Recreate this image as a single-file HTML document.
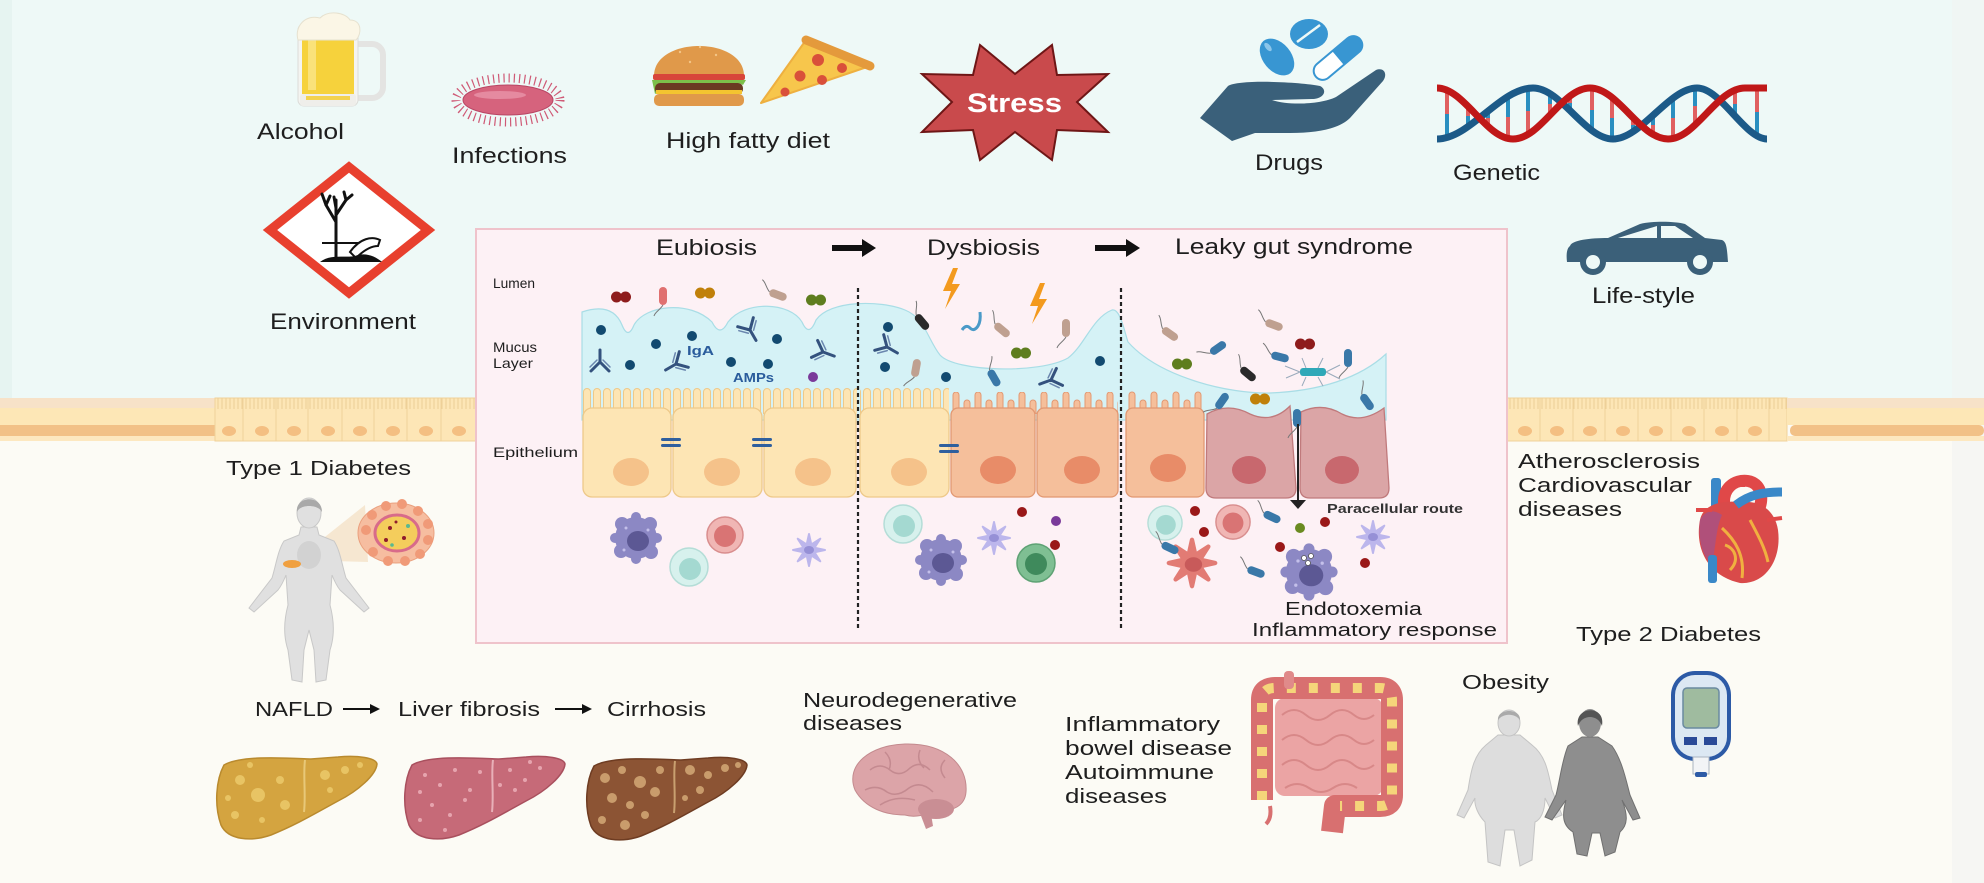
<!DOCTYPE html>
<html><head><meta charset="utf-8">
<style>
html,body{margin:0;padding:0;width:1984px;height:883px;overflow:hidden;background:#fcfbf5}
svg{display:block}
text{font-family:"Liberation Sans",Arial,sans-serif;fill:#1e1e1e}
</style></head><body>
<svg width="1984" height="883" viewBox="0 0 1984 883" xmlns="http://www.w3.org/2000/svg">
<defs>
 <pattern id="bv" x="0" y="398" width="4" height="12" patternUnits="userSpaceOnUse"><line x1="2" y1="0" x2="2" y2="11" stroke="#eccf96" stroke-width="1"/></pattern>
 <pattern id="vY" x="582" y="388" width="10" height="40" patternUnits="userSpaceOnUse"><rect x="1.5" y="0.5" width="7" height="40" rx="3.5" fill="#fde5b4" stroke="#eec98a"/></pattern>
 <pattern id="vO" x="951" y="390" width="22" height="40" patternUnits="userSpaceOnUse"><rect x="2" y="2" width="6" height="40" rx="3" fill="#f5bf9b" stroke="#e29872"/><rect x="13" y="10" width="6" height="40" rx="3" fill="#f5bf9b" stroke="#e29872"/></pattern>
 <g id="mac"><circle r="21" fill="#8c88c4"/><circle cx="-14" cy="-14" r="7" fill="#8c88c4"/><circle cx="14" cy="-14" r="7" fill="#8c88c4"/><circle cx="-15" cy="13" r="7" fill="#8c88c4"/><circle cx="15" cy="14" r="7" fill="#8c88c4"/><circle cx="0" cy="-21" r="5" fill="#8c88c4"/><circle cx="0" cy="21" r="5" fill="#8c88c4"/><circle cx="-21" cy="0" r="5" fill="#8c88c4"/><circle cx="21" cy="0" r="5" fill="#8c88c4"/><ellipse cx="2" cy="3" rx="11" ry="10" fill="#5c5894"/><circle cx="-10" cy="-10" r="1.5" fill="#c4c0ea"/><circle cx="12" cy="-8" r="1.5" fill="#c4c0ea"/><circle cx="-12" cy="12" r="1.5" fill="#c4c0ea"/></g>
 <g id="teal"><circle r="19" fill="#d7f1ed" stroke="#b4ddd7" stroke-width="1.5"/><circle cx="1" cy="2" r="11" fill="#a4d9d1"/></g>
 <g id="pink"><circle r="18" fill="#f0b6b4" stroke="#d98e8e" stroke-width="1.5"/><circle cx="0" cy="1" r="11" fill="#d97474"/></g>
 <g id="green"><circle r="19" fill="#7fbf93" stroke="#5ea274" stroke-width="1.5"/><circle cx="0" cy="1" r="11" fill="#3f8a5c"/></g>
 <g id="dend"><polygon points="16,0 5.5,2.3 11.3,11.3 2.3,5.5 0,16 -2.3,5.5 -11.3,11.3 -5.5,2.3 -16,0 -5.5,-2.3 -11.3,-11.3 -2.3,-5.5 0,-16 2.3,-5.5 11.3,-11.3 5.5,-2.3" fill="#bcb6ec" stroke="#bcb6ec" stroke-width="2" stroke-linejoin="round"/><ellipse rx="8" ry="6" fill="#bcb6ec"/><ellipse rx="5" ry="4" fill="#9690d6"/></g>
 <g id="rod"><path d="M-9,0 C-14,-3 -16,-8 -20,-9" fill="none" stroke="#777" stroke-width="1"/><rect x="-9" y="-4" width="18" height="8" rx="4"/></g>
 <g id="dip"><circle cx="-4.5" cy="0" r="5.5"/><circle cx="4.5" cy="0" r="5.5"/></g>
 <g id="ab" fill="none" stroke="#34527e" stroke-width="3" stroke-linecap="round"><path d="M0,12 V0 M0,0 L-9,-9 M0,0 L9,-9"/><path d="M-3,2 L-10,-5 M3,2 L10,-5" stroke-width="1.5" stroke="#6a86ae"/></g>
 <path id="liver" d="M8,10 C25,0 70,3 95,4 L122,2 C142,0 160,3 161,9 C160,20 142,36 122,46 C100,58 80,70 55,80 C35,87 12,85 5,70 C-2,50 0,25 8,10 Z"/>
</defs>

<!-- backgrounds -->
<rect width="1984" height="883" fill="#fcfbf5"/>
<rect width="1984" height="400" fill="#eef9f7"/>
<rect x="0" y="0" width="12" height="400" fill="#e6f4f1"/>
<rect x="1952" y="0" width="32" height="883" fill="#f1f3f1" opacity="0.6"/>

<!-- epithelial band left -->
<rect x="0" y="398" width="216" height="10" fill="#f7e2c8"/>
<rect x="0" y="408" width="216" height="17" fill="#fde7b6"/>
<rect x="0" y="425" width="216" height="11" fill="#f2c187"/>
<rect x="0" y="436" width="216" height="5" fill="#fde8c0"/>
<g fill="#fde6b6" stroke="#f0d19a" stroke-width="1">
<rect x="215" y="398" width="28" height="43"/><rect x="243" y="398" width="33" height="43"/><rect x="276" y="398" width="32" height="43"/><rect x="308" y="398" width="34" height="43"/><rect x="342" y="398" width="32" height="43"/><rect x="374" y="398" width="33" height="43"/><rect x="407" y="398" width="34" height="43"/><rect x="441" y="398" width="35" height="43"/>
</g>
<rect x="215" y="398" width="261" height="11" fill="url(#bv)"/>
<g fill="#f4bf82"><ellipse cx="229" cy="431" rx="7" ry="5"/><ellipse cx="262" cy="431" rx="7" ry="5"/><ellipse cx="294" cy="431" rx="7" ry="5"/><ellipse cx="328" cy="431" rx="7" ry="5"/><ellipse cx="360" cy="431" rx="7" ry="5"/><ellipse cx="393" cy="431" rx="7" ry="5"/><ellipse cx="426" cy="431" rx="7" ry="5"/><ellipse cx="459" cy="431" rx="7" ry="5"/></g>

<!-- epithelial band right -->
<g fill="#fde6b6" stroke="#f0d19a" stroke-width="1">
<rect x="1507" y="398" width="33" height="43"/><rect x="1540" y="398" width="33" height="43"/><rect x="1573" y="398" width="32" height="43"/><rect x="1605" y="398" width="33" height="43"/><rect x="1638" y="398" width="33" height="43"/><rect x="1671" y="398" width="33" height="43"/><rect x="1704" y="398" width="33" height="43"/><rect x="1737" y="398" width="32" height="43"/><rect x="1769" y="398" width="18" height="43"/>
</g>
<rect x="1507" y="398" width="280" height="11" fill="url(#bv)"/>
<g fill="#f4bf82"><ellipse cx="1525" cy="431" rx="7" ry="5"/><ellipse cx="1557" cy="431" rx="7" ry="5"/><ellipse cx="1590" cy="431" rx="7" ry="5"/><ellipse cx="1623" cy="431" rx="7" ry="5"/><ellipse cx="1656" cy="431" rx="7" ry="5"/><ellipse cx="1689" cy="431" rx="7" ry="5"/><ellipse cx="1722" cy="431" rx="7" ry="5"/><ellipse cx="1755" cy="431" rx="7" ry="5"/></g>
<rect x="1787" y="398" width="197" height="10" fill="#f7e2c8"/>
<rect x="1787" y="408" width="197" height="17" fill="#fde7b6"/>
<rect x="1790" y="425" width="194" height="11" rx="5" fill="#f2c187"/>
<rect x="1787" y="436" width="197" height="5" fill="#fde8c0"/>

<!-- ================= TOP ICONS ================= -->
<!-- beer -->
<path d="M356,44 h16 a11,11 0 0 1 11,11 v32 a11,11 0 0 1 -11,11 h-16" fill="none" stroke="#e4e4e2" stroke-width="6"/>
<rect x="298" y="24" width="60" height="82" rx="6" fill="#f4f4f1" stroke="#dcdcd8"/>
<rect x="302" y="36" width="52" height="58" fill="#f6d23c"/>
<rect x="308" y="40" width="8" height="50" fill="#fae27a"/>
<path d="M298,40 C294,26 306,14 320,18 C328,10 345,12 350,20 C362,20 362,34 356,40 Z" fill="#fbf6e6" stroke="#e6e1cf"/>
<rect x="300" y="94" width="56" height="12" rx="3" fill="#efeeea"/>
<rect x="306" y="96" width="44" height="4" fill="#f3d24e"/>
<!-- bacterium -->
<ellipse cx="508" cy="100" rx="52" ry="22" fill="none" stroke="#cf5a76" stroke-width="9" stroke-dasharray="1.2 4"/>
<ellipse cx="508" cy="100" rx="45" ry="15" fill="#d6637d" stroke="#b84664"/>
<ellipse cx="500" cy="95" rx="26" ry="4" fill="#e58aa0"/>
<!-- burger -->
<path d="M654,76 C654,36 744,36 744,76 Z" fill="#e0994a"/>
<rect x="653" y="74" width="92" height="6" rx="2" fill="#d8453a"/>
<path d="M652,80 h94 l-3,5 l-4,-2 l-4,3 l-5,-2 l-5,3 l-5,-2 l-5,3 l-5,-2 l-5,3 l-5,-2 l-5,3 l-5,-2 l-5,3 l-5,-2 l-5,3 l-5,-2 l-5,3 l-5,-2 l-5,3 Z" fill="#7cc04a"/>
<rect x="655" y="83" width="88" height="11" rx="5" fill="#6a3a22"/>
<path d="M656,90 h86 v4 h-30 l-6,6 l-6,-6 h-44 Z" fill="#f4c430"/>
<rect x="654" y="94" width="90" height="12" rx="5" fill="#e0994a"/>
<g fill="#f3c586"><circle cx="680" cy="52" r="1.2"/><circle cx="700" cy="47" r="1.2"/><circle cx="716" cy="55" r="1.2"/><circle cx="690" cy="62" r="1.2"/></g>
<!-- pizza -->
<path d="M806,40 L870,66 L761,103 Z" fill="#f7c64c" stroke="#eeb040" stroke-width="2" stroke-linejoin="round"/>
<path d="M806,40 L870,66" stroke="#e49a3c" stroke-width="9" stroke-linecap="round"/>
<g fill="#d9503a"><circle cx="818" cy="60" r="6"/><circle cx="842" cy="68" r="5"/><circle cx="800" cy="76" r="5.5"/><circle cx="822" cy="80" r="5"/><circle cx="785" cy="92" r="4.5"/></g>
<!-- stress -->
<polygon points="980,45 1015,74 1052,45 1057,75 1108,74 1077,102 1108,132 1057,130 1052,160 1015,132 980,160 973,130 922,132 952,102 922,74 973,75" fill="#c94a4c" stroke="#6e1616" stroke-width="2" stroke-linejoin="miter"/>
<text x="967" y="112" font-size="27" font-weight="bold" textLength="95" lengthAdjust="spacingAndGlyphs" style="fill:#fff">Stress</text>
<!-- drugs -->
<path d="M1200,118 L1228,86 C1240,79 1300,82 1320,86 C1328,90 1324,99 1312,99 L1272,100 C1290,106 1322,104 1336,97 L1376,70 C1384,67 1388,74 1383,81 L1350,118 C1340,128 1320,133 1290,133 L1255,133 L1232,141 Z" fill="#3a607a"/>
<ellipse cx="1277" cy="57" rx="21" ry="14" transform="rotate(50 1277 57)" fill="#3896d2"/>
<ellipse cx="1268" cy="47" rx="5" ry="2.5" transform="rotate(50 1268 47)" fill="#8cc6ea"/>
<ellipse cx="1309" cy="34" rx="19" ry="15" fill="#3896d2"/>
<line x1="1297" y1="42" x2="1320" y2="25" stroke="#eef9f7" stroke-width="2.5"/>
<g transform="rotate(-40 1338 58)"><rect x="1308" y="48" width="60" height="20" rx="10" fill="#3896d2"/><path d="M1338,50 h-20 a8,8 0 0 0 0,16 h20 Z" fill="#fff"/></g>
<!-- DNA -->
<g stroke-width="4">
<line x1="1447" y1="90" x2="1447" y2="114" stroke="#e06060"/><line x1="1447" y1="114" x2="1447" y2="138" stroke="#2a8fc0"/>
<line x1="1468" y1="106" x2="1468" y2="116" stroke="#e06060"/><line x1="1468" y1="116" x2="1468" y2="127" stroke="#2a8fc0"/>
<line x1="1488" y1="111" x2="1488" y2="118" stroke="#2a8fc0"/><line x1="1488" y1="118" x2="1488" y2="126" stroke="#e06060"/>
<line x1="1508" y1="96" x2="1508" y2="117" stroke="#2a8fc0"/><line x1="1508" y1="117" x2="1508" y2="138" stroke="#e06060"/>
<line x1="1528" y1="88" x2="1528" y2="111" stroke="#2a8fc0"/><line x1="1528" y1="111" x2="1528" y2="134" stroke="#e06060"/>
<line x1="1550" y1="93" x2="1550" y2="104" stroke="#2a8fc0"/><line x1="1550" y1="104" x2="1550" y2="115" stroke="#e06060"/>
<line x1="1570" y1="96" x2="1570" y2="103" stroke="#e06060"/><line x1="1570" y1="103" x2="1570" y2="110" stroke="#2a8fc0"/>
<line x1="1592" y1="88" x2="1592" y2="110" stroke="#e06060"/><line x1="1592" y1="110" x2="1592" y2="131" stroke="#2a8fc0"/>
<line x1="1612" y1="97" x2="1612" y2="118" stroke="#e06060"/><line x1="1612" y1="118" x2="1612" y2="139" stroke="#2a8fc0"/>
<line x1="1633" y1="117" x2="1633" y2="125" stroke="#e06060"/><line x1="1633" y1="125" x2="1633" y2="132" stroke="#2a8fc0"/>
<line x1="1653" y1="115" x2="1653" y2="125" stroke="#2a8fc0"/><line x1="1653" y1="125" x2="1653" y2="134" stroke="#e06060"/>
<line x1="1673" y1="98" x2="1673" y2="118" stroke="#2a8fc0"/><line x1="1673" y1="118" x2="1673" y2="138" stroke="#e06060"/>
<line x1="1695" y1="88" x2="1695" y2="106" stroke="#2a8fc0"/><line x1="1695" y1="106" x2="1695" y2="125" stroke="#e06060"/>
<line x1="1735" y1="90" x2="1735" y2="104" stroke="#e06060"/><line x1="1735" y1="104" x2="1735" y2="117" stroke="#2a8fc0"/>
<line x1="1757" y1="88" x2="1757" y2="112" stroke="#e06060"/><line x1="1757" y1="112" x2="1757" y2="136" stroke="#2a8fc0"/>
</g>
<path d="M1437,139 C1470,139 1500,88 1533,88 C1561,88 1585,139 1613,139 C1641,139 1669,88 1697,88 C1721,88 1745,139 1767,139" fill="none" stroke="#1c5a88" stroke-width="7"/>
<path d="M1437,88 C1464,88 1486,139 1513,139 C1541,139 1562,88 1590,88 C1618,88 1640,139 1668,139 C1696,139 1717,88 1745,88 L1767,88" fill="none" stroke="#c01818" stroke-width="7"/>
<!-- environment -->
<polygon points="349,167 428,230 349,293 270,230" fill="#fff" stroke="#e8402e" stroke-width="9" stroke-linejoin="miter"/>
<g stroke="#111" stroke-width="3" fill="none" stroke-linecap="round">
<path d="M336,258 L336,200 M336,222 L326,205 M326,205 L322,194 M326,205 L330,196 M336,215 L346,200 M346,200 L344,192 M346,200 L352,195 M336,208 L334,197"/>
</g>
<line x1="322" y1="243" x2="378" y2="243" stroke="#111" stroke-width="2"/>
<path d="M350,252 C360,238 372,236 380,240 L378,246 C370,246 362,252 356,258 Z" fill="#fff" stroke="#111" stroke-width="2"/>
<path d="M320,262 C330,254 345,258 355,256 C365,252 375,256 382,262 Z" fill="#111"/>
<!-- car -->
<path d="M1570,246 C1572,240 1590,238 1608,238 L1640,224 C1650,221 1675,221 1685,224 L1705,238 L1722,240 C1727,242 1727,250 1728,262 L1567,262 C1566,254 1567,248 1570,246 Z" fill="#3b6079"/>
<polygon points="1618,238 1657,226 1657,238" fill="#eef9f7"/>
<polygon points="1661,226 1675,226 1693,238 1661,238" fill="#eef9f7"/>
<circle cx="1593" cy="262" r="13" fill="#3b6079"/><circle cx="1593" cy="262" r="7" fill="#eef9f7"/>
<circle cx="1700" cy="262" r="13" fill="#3b6079"/><circle cx="1700" cy="262" r="7" fill="#eef9f7"/>

<!-- top labels -->
<g font-size="22">
<text x="257" y="139" textLength="87" lengthAdjust="spacingAndGlyphs">Alcohol</text>
<text x="452" y="163" textLength="115" lengthAdjust="spacingAndGlyphs">Infections</text>
<text x="666" y="148" textLength="164" lengthAdjust="spacingAndGlyphs">High fatty diet</text>
<text x="1255" y="170" textLength="68" lengthAdjust="spacingAndGlyphs">Drugs</text>
<text x="1453" y="180" textLength="87" lengthAdjust="spacingAndGlyphs">Genetic</text>
<text x="270" y="329" textLength="146" lengthAdjust="spacingAndGlyphs">Environment</text>
<text x="1592" y="303" textLength="103" lengthAdjust="spacingAndGlyphs">Life-style</text>
</g>

<!-- ================= CENTRAL BOX ================= -->
<rect x="476" y="229" width="1031" height="414" fill="#fdf1f5" stroke="#efc3cb" stroke-width="2"/>
<g font-size="22">
<text x="656" y="255" textLength="101" lengthAdjust="spacingAndGlyphs">Eubiosis</text>
<text x="927" y="255" textLength="113" lengthAdjust="spacingAndGlyphs">Dysbiosis</text>
<text x="1175" y="254" textLength="238" lengthAdjust="spacingAndGlyphs">Leaky gut syndrome</text>
</g>
<path d="M832,245 h30 v-6 l14,9 l-14,9 v-6 h-30 Z" fill="#111"/>
<path d="M1095,245 h31 v-6 l14,9 l-14,9 v-6 h-31 Z" fill="#111"/>
<g font-size="14">
<text x="493" y="288" textLength="42" lengthAdjust="spacingAndGlyphs">Lumen</text>
<text x="493" y="352" textLength="44" lengthAdjust="spacingAndGlyphs">Mucus</text>
<text x="493" y="368" textLength="40" lengthAdjust="spacingAndGlyphs">Layer</text>
<text x="493" y="457" textLength="85" lengthAdjust="spacingAndGlyphs">Epithelium</text>
</g>

<!-- mucus -->
<path d="M582,312 C600,306 615,308 622,325 Q628,340 634,325 C645,305 690,300 712,322 Q720,338 728,322 C745,300 790,302 802,322 Q809,338 816,320 C830,300 880,300 905,310 C925,318 928,340 940,355 C955,372 1040,374 1068,358 C1085,345 1092,318 1112,310 C1120,308 1124,330 1128,342 C1160,378 1230,394 1270,393 C1320,391 1360,378 1386,354 L1386,420 L582,420 Z" fill="#d5f2f6" stroke="#a9dde6" stroke-width="1.2"/>

<!-- cells eubiosis -->
<rect x="582" y="388" width="275" height="26" fill="url(#vY)"/>
<g fill="#fde5b4" stroke="#eec98a" stroke-width="1.3">
<rect x="583" y="408" width="88" height="89" rx="9"/>
<rect x="673" y="408" width="89" height="89" rx="9"/>
<rect x="764" y="408" width="92" height="89" rx="9"/>
</g>
<!-- dysbiosis cells -->
<rect x="860" y="388" width="89" height="26" fill="url(#vY)"/>
<rect x="860" y="408" width="89" height="89" rx="9" fill="#fde5b4" stroke="#eec98a" stroke-width="1.3"/>
<rect x="951" y="392" width="167" height="22" fill="url(#vO)"/>
<g fill="#f5bf9b" stroke="#e29872" stroke-width="1.3">
<rect x="951" y="408" width="84" height="89" rx="7"/>
<rect x="1037" y="408" width="81" height="89" rx="7"/>
</g>
<!-- leaky cells -->
<rect x="1126" y="390" width="78" height="24" fill="url(#vO)"/>
<rect x="1126" y="408" width="78" height="89" rx="7" fill="#f5bf9b" stroke="#e29872" stroke-width="1.3"/>
<path d="M1207,414 Q1228,402 1250,414 Q1272,424 1290,406 L1296,488 Q1296,498 1286,498 L1216,498 Q1206,498 1206,488 Z" fill="#dba5a6" stroke="#c07a7c" stroke-width="1.3"/>
<path d="M1301,412 Q1322,402 1342,414 Q1362,424 1384,408 L1389,488 Q1389,498 1379,498 L1310,498 Q1300,498 1300,488 Z" fill="#dba5a6" stroke="#c07a7c" stroke-width="1.3"/>
<!-- nuclei -->
<g fill="#f5c28a"><ellipse cx="631" cy="472" rx="18" ry="14"/><ellipse cx="722" cy="472" rx="18" ry="14"/><ellipse cx="813" cy="472" rx="18" ry="14"/><ellipse cx="909" cy="472" rx="18" ry="14"/></g>
<g fill="#e88c68"><ellipse cx="998" cy="470" rx="18" ry="14"/><ellipse cx="1082" cy="470" rx="18" ry="14"/><ellipse cx="1168" cy="468" rx="18" ry="14"/></g>
<g fill="#c8686e"><ellipse cx="1249" cy="470" rx="17" ry="14"/><ellipse cx="1342" cy="470" rx="17" ry="14"/></g>
<!-- tight junctions -->
<g fill="#2f5f9e"><rect x="661" y="438" width="20" height="3" rx="1.5"/><rect x="661" y="444" width="20" height="3" rx="1.5"/><rect x="752" y="438" width="20" height="3" rx="1.5"/><rect x="752" y="444" width="20" height="3" rx="1.5"/><rect x="939" y="444" width="20" height="3" rx="1.5"/><rect x="939" y="450" width="20" height="3" rx="1.5"/></g>

<!-- eubiosis mucus contents -->
<g fill="#124a70"><circle cx="601" cy="330" r="5"/><circle cx="630" cy="365" r="5"/><circle cx="656" cy="344" r="5"/><circle cx="692" cy="336" r="5"/><circle cx="731" cy="362" r="5"/><circle cx="768" cy="364" r="5"/><circle cx="777" cy="339" r="5"/><circle cx="888" cy="327" r="5"/><circle cx="885" cy="367" r="5"/><circle cx="946" cy="377" r="5"/><circle cx="1100" cy="361" r="5"/></g>
<circle cx="813" cy="377" r="5" fill="#7a3a9a"/>
<use href="#ab" transform="translate(600,362) rotate(180)"/>
<use href="#ab" transform="translate(676,364) rotate(60)"/>
<use href="#ab" transform="translate(750,330) rotate(-30)"/>
<use href="#ab" transform="translate(823,352) rotate(-70)"/>
<use href="#ab" transform="translate(887,347) rotate(-60)"/>
<use href="#ab" transform="translate(1051,380) rotate(70)"/>
<text x="687" y="355" font-size="13" font-weight="bold" textLength="27" lengthAdjust="spacingAndGlyphs" style="fill:#2a5c9c">IgA</text>
<text x="733" y="382" font-size="13" font-weight="bold" textLength="41" lengthAdjust="spacingAndGlyphs" style="fill:#2a5c9c">AMPs</text>

<!-- lumen bacteria eubiosis -->
<use href="#dip" x="621" y="297" fill="#8e1c1c"/>
<use href="#rod" transform="translate(663,296) rotate(-90)" fill="#e07070"/>
<use href="#dip" x="705" y="293" fill="#c0800a"/>
<use href="#rod" transform="translate(778,295) rotate(20)" fill="#bfa090"/>
<use href="#dip" x="816" y="300" fill="#5e7d1e"/>
<!-- dysbiosis bacteria & bolts -->
<polygon points="953,268 943,291 951,291 945,309 960,284 952,284 958,268" fill="#f39a1e"/>
<polygon points="1040,283 1030,306 1038,306 1032,324 1047,299 1039,299 1045,283" fill="#f39a1e"/>
<use href="#rod" transform="translate(922,322) rotate(50)" fill="#2a2a2a"/>
<path d="M962,330 q4,-6 8,-2 q4,4 8,-2 q3,-5 2,-14" fill="none" stroke="#4a9ac8" stroke-width="3"/>
<use href="#rod" transform="translate(1002,330) rotate(40)" fill="#bfa090"/>
<use href="#rod" transform="translate(1066,328) rotate(-90)" fill="#bfa090"/>
<use href="#dip" x="1021" y="353" fill="#5e7d1e"/>
<use href="#rod" transform="translate(916,368) rotate(-80)" fill="#bfa090"/>
<use href="#rod" transform="translate(994,378) rotate(60)" fill="#3a78a8"/>
<!-- leaky bacteria -->
<use href="#rod" transform="translate(1170,334) rotate(35)" fill="#bfa090"/>
<use href="#rod" transform="translate(1218,348) rotate(-35)" fill="#3a78a8"/>
<use href="#rod" transform="translate(1274,325) rotate(20)" fill="#bfa090"/>
<use href="#dip" x="1305" y="344" fill="#8e1c1c"/>
<use href="#dip" x="1182" y="364" fill="#5e7d1e"/>
<use href="#rod" transform="translate(1248,374) rotate(40)" fill="#2a2a2a"/>
<use href="#rod" transform="translate(1280,357) rotate(15)" fill="#3a78a8"/>
<use href="#rod" transform="translate(1348,358) rotate(-90)" fill="#3a78a8"/>
<g stroke="#9ab" stroke-width="1" fill="none"><path d="M1300,372 l-15,-6 M1300,372 l-14,6 M1326,372 l14,-7 M1326,372 l14,7 M1306,368 l-4,-10 M1318,368 l5,-10 M1306,377 l-4,9 M1318,377 l5,9"/></g>
<rect x="1300" y="368" width="26" height="8" rx="3" fill="#2fa8b8"/>
<use href="#rod" transform="translate(1222,401) rotate(-55)" fill="#3a78a8"/>
<use href="#dip" x="1260" y="399" fill="#c0800a"/>
<use href="#rod" transform="translate(1367,402) rotate(55)" fill="#3a78a8"/>
<use href="#rod" transform="translate(1297,418) rotate(-90)" fill="#3a78a8"/>
<!-- paracellular arrow -->
<line x1="1298" y1="424" x2="1298" y2="502" stroke="#222" stroke-width="2"/>
<polygon points="1290,500 1306,500 1298,509" fill="#222"/>
<text x="1327" y="513" font-size="13" font-weight="bold" textLength="136" lengthAdjust="spacingAndGlyphs" style="fill:#333">Paracellular route</text>

<!-- immune cells -->
<use href="#mac" x="636" y="538"/>
<use href="#pink" x="725" y="535"/>
<use href="#teal" x="689" y="567"/>
<use href="#dend" x="809" y="550"/>
<use href="#teal" x="903" y="524"/>
<use href="#mac" x="941" y="560"/>
<use href="#dend" x="994" y="538"/>
<use href="#green" x="1036" y="563"/>
<g fill="#9a1818"><circle cx="1022" cy="512" r="5"/><circle cx="1055" cy="545" r="5"/><circle cx="1195" cy="511" r="5"/><circle cx="1204" cy="532" r="5"/><circle cx="1280" cy="547" r="5"/><circle cx="1325" cy="522" r="5"/><circle cx="1365" cy="563" r="5"/></g>
<circle cx="1056" cy="521" r="5" fill="#7a3a9a"/>
<circle cx="1300" cy="528" r="5" fill="#6a8a20"/>
<use href="#teal" transform="translate(1165,523) scale(0.9)"/>
<use href="#pink" transform="translate(1233,522) scale(0.95)"/>
<g transform="translate(1192,563) scale(1.45)"><polygon points="16,0 5.5,2.3 11.3,11.3 2.3,5.5 0,16 -2.3,5.5 -11.3,11.3 -5.5,2.3 -16,0 -5.5,-2.3 -11.3,-11.3 -2.3,-5.5 0,-16 2.3,-5.5 11.3,-11.3 5.5,-2.3" fill="#e27b74" stroke="#e27b74" stroke-width="3" stroke-linejoin="round"/><ellipse rx="9" ry="7" fill="#e27b74"/><ellipse cx="1" cy="1" rx="6" ry="5" fill="#c85a5a"/></g>
<use href="#mac" transform="translate(1309,572) scale(1.1)"/>
<g fill="#fff" stroke="#555" stroke-width="0.8"><circle cx="1304" cy="558" r="2.5"/><circle cx="1311" cy="556" r="2.5"/><circle cx="1308" cy="563" r="2.5"/></g>
<use href="#dend" x="1373" y="537"/>
<use href="#rod" transform="translate(1272,517) rotate(25)" fill="#3a78a8"/>
<use href="#rod" transform="translate(1170,548) rotate(25)" fill="#3a78a8"/>
<use href="#rod" transform="translate(1256,572) rotate(20)" fill="#3a78a8"/>

<!-- dashed lines -->
<line x1="858" y1="288" x2="858" y2="628" stroke="#222" stroke-width="2.2" stroke-dasharray="4 3"/>
<line x1="1121" y1="288" x2="1121" y2="628" stroke="#222" stroke-width="2.2" stroke-dasharray="4 3"/>

<text x="1285" y="615" font-size="18" textLength="137" lengthAdjust="spacingAndGlyphs">Endotoxemia</text>
<text x="1252" y="636" font-size="18" textLength="245" lengthAdjust="spacingAndGlyphs">Inflammatory response</text>

<!-- ================= BOTTOM ================= -->
<!-- T1D woman -->
<polygon points="296,560 365,505 368,562" fill="#f4e2c8" opacity="0.8"/>
<path d="M301,527 L317,527 L319,535 L334,541 C340,550 342,565 346,578 L369,608 L364,612 L340,590 C336,585 334,580 332,575 L330,605 C334,620 335,635 330,650 L326,680 L316,682 L314,650 L309,630 L304,650 L302,682 L292,680 L288,650 C283,635 284,620 288,605 L286,575 C284,580 282,585 278,590 L254,612 L249,608 L272,578 C276,565 278,550 284,541 L299,535 Z" fill="#e0e0e0" stroke="#c8c8c8"/>
<ellipse cx="309" cy="513" rx="12" ry="15" fill="#e0e0e0" stroke="#c8c8c8"/>
<path d="M297,512 C295,496 322,494 322,512 C318,504 300,504 297,512 Z" fill="#a9a9a9"/>
<ellipse cx="309" cy="555" rx="12" ry="14" fill="#d2d2d2"/>
<ellipse cx="292" cy="564" rx="9" ry="4" fill="#f0a040"/>
<ellipse cx="396" cy="533" rx="38" ry="30" fill="#f6bda0" stroke="#eaa07e"/>
<g fill="#f09a78"><circle cx="366" cy="530" r="5"/><circle cx="372" cy="515" r="5"/><circle cx="386" cy="506" r="5"/><circle cx="402" cy="504" r="5"/><circle cx="418" cy="511" r="5"/><circle cx="428" cy="524" r="5"/><circle cx="428" cy="540" r="5"/><circle cx="420" cy="554" r="5"/><circle cx="405" cy="561" r="5"/><circle cx="388" cy="561" r="5"/><circle cx="373" cy="552" r="5"/></g>
<ellipse cx="397" cy="533" rx="22" ry="18" fill="#f4cd5c" stroke="#d86b8a" stroke-width="3"/>
<g fill="#8e1c2c"><circle cx="390" cy="528" r="2"/><circle cx="404" cy="538" r="2"/><circle cx="396" cy="522" r="1.5"/><circle cx="386" cy="540" r="2"/></g>
<g fill="#5ab890"><circle cx="408" cy="526" r="2"/><circle cx="392" cy="545" r="1.8"/></g>

<!-- labels bottom -->
<g font-size="20">
<text x="226" y="475" textLength="185" lengthAdjust="spacingAndGlyphs">Type 1 Diabetes</text>
<text x="255" y="716" textLength="78" lengthAdjust="spacingAndGlyphs">NAFLD</text>
<text x="398" y="716" textLength="142" lengthAdjust="spacingAndGlyphs">Liver fibrosis</text>
<text x="607" y="716" textLength="99" lengthAdjust="spacingAndGlyphs">Cirrhosis</text>
<text x="803" y="707" textLength="214" lengthAdjust="spacingAndGlyphs">Neurodegenerative</text>
<text x="803" y="730" textLength="99" lengthAdjust="spacingAndGlyphs">diseases</text>
<text x="1065" y="731" textLength="155" lengthAdjust="spacingAndGlyphs">Inflammatory</text>
<text x="1065" y="755" textLength="167" lengthAdjust="spacingAndGlyphs">bowel disease</text>
<text x="1065" y="779" textLength="149" lengthAdjust="spacingAndGlyphs">Autoimmune</text>
<text x="1065" y="803" textLength="102" lengthAdjust="spacingAndGlyphs">diseases</text>
<text x="1462" y="689" textLength="87" lengthAdjust="spacingAndGlyphs">Obesity</text>
<text x="1576" y="641" textLength="185" lengthAdjust="spacingAndGlyphs">Type 2 Diabetes</text>
<text x="1518" y="468" textLength="182" lengthAdjust="spacingAndGlyphs">Atherosclerosis</text>
<text x="1518" y="492" textLength="174" lengthAdjust="spacingAndGlyphs">Cardiovascular</text>
<text x="1518" y="516" textLength="104" lengthAdjust="spacingAndGlyphs">diseases</text>
</g>
<line x1="343" y1="709" x2="372" y2="709" stroke="#111" stroke-width="2"/><polygon points="370,704 380,709 370,714" fill="#111"/>
<line x1="555" y1="709" x2="584" y2="709" stroke="#111" stroke-width="2"/><polygon points="582,704 592,709 582,714" fill="#111"/>

<!-- livers -->
<use href="#liver" transform="translate(216,755)" fill="#d4a440" stroke="#b98a2e" stroke-width="1.5"/>
<path d="M305,760 C303,775 306,795 304,812" stroke="#e8c878" stroke-width="2" fill="none"/>
<g fill="#e8c464"><circle cx="240" cy="780" r="5"/><circle cx="258" cy="795" r="7"/><circle cx="280" cy="780" r="4"/><circle cx="235" cy="815" r="4"/><circle cx="262" cy="820" r="3"/><circle cx="285" cy="805" r="5"/><circle cx="325" cy="775" r="5"/><circle cx="345" cy="770" r="4"/><circle cx="330" cy="790" r="3"/><circle cx="360" cy="765" r="3"/><circle cx="250" cy="765" r="3"/><circle cx="228" cy="798" r="3"/></g>
<use href="#liver" transform="translate(404,755)" fill="#c66a78" stroke="#a9505e" stroke-width="1.5"/>
<path d="M493,760 C491,775 494,795 492,812" stroke="#e8b0b8" stroke-width="2" fill="none"/>
<g fill="#e6a4ae"><circle cx="425" cy="775" r="2"/><circle cx="440" cy="785" r="2"/><circle cx="455" cy="770" r="2"/><circle cx="470" cy="790" r="2"/><circle cx="432" cy="805" r="2"/><circle cx="450" cy="815" r="2"/><circle cx="465" cy="800" r="2"/><circle cx="480" cy="772" r="2"/><circle cx="510" cy="770" r="2"/><circle cx="525" cy="780" r="2"/><circle cx="540" cy="768" r="2"/><circle cx="515" cy="790" r="2"/><circle cx="500" cy="785" r="2"/><circle cx="420" cy="820" r="2"/><circle cx="445" cy="830" r="2"/><circle cx="530" cy="762" r="2"/><circle cx="420" cy="792" r="2"/></g>
<use href="#liver" transform="translate(586,756)" fill="#8c5434" stroke="#6e3c22" stroke-width="1.5"/>
<path d="M675,761 C673,776 676,796 674,813" stroke="#c9a070" stroke-width="2" fill="none"/>
<g fill="#c99c6c"><circle cx="605" cy="778" r="5"/><circle cx="622" cy="770" r="4"/><circle cx="640" cy="782" r="6"/><circle cx="612" cy="798" r="5"/><circle cx="630" cy="805" r="4"/><circle cx="655" cy="792" r="5"/><circle cx="602" cy="820" r="4"/><circle cx="625" cy="825" r="5"/><circle cx="660" cy="770" r="4"/><circle cx="690" cy="770" r="5"/><circle cx="708" cy="775" r="4"/><circle cx="725" cy="768" r="4"/><circle cx="700" cy="790" r="4"/><circle cx="685" cy="798" r="3"/><circle cx="738" cy="765" r="3"/><circle cx="645" cy="815" r="4"/></g>

<!-- brain -->
<path d="M855,790 C845,765 870,745 905,744 C945,743 968,765 966,792 C965,806 952,812 938,810 C926,815 915,818 905,815 C885,815 865,808 855,790 Z" fill="#dca4a8" stroke="#c38a8e"/>
<ellipse cx="936" cy="809" rx="18" ry="10" fill="#c98e94"/>
<path d="M918,808 L926,829 L933,826 L930,808 Z" fill="#c98e94"/>
<g fill="none" stroke="#c48a90" stroke-width="1.5"><path d="M870,770 q10,-8 20,0 q10,8 20,-2 q10,-8 20,2"/><path d="M865,790 q12,-6 22,2 q10,6 22,-4 q12,-8 24,4"/><path d="M885,752 q8,8 4,18 M920,750 q-4,10 4,18 M945,760 q-8,8 0,18"/><path d="M880,805 q15,-10 35,-5"/></g>

<!-- intestine -->
<rect x="1275" y="698" width="108" height="98" rx="10" fill="#eba4a4"/>
<g fill="none" stroke="#d88888" stroke-width="2"><path d="M1282,715 q12,-10 24,0 q12,10 24,0 q12,-10 24,0 q10,8 20,0"/><path d="M1282,740 q12,-10 24,0 q12,10 24,0 q12,-10 24,0 q10,8 20,0"/><path d="M1282,765 q12,-10 24,0 q12,10 24,0 q12,-10 24,0 q10,8 20,0"/><path d="M1285,788 q12,-8 24,0 q12,8 24,0 q12,-8 24,0"/></g>
<path d="M1262,800 L1262,700 Q1262,688 1275,688 L1380,688 Q1392,688 1392,700 L1392,795 Q1392,806 1380,806 L1335,806 L1332,832" fill="none" stroke="#d87070" stroke-width="22" stroke-linejoin="round"/>
<path d="M1262,800 L1262,700 Q1262,688 1275,688 L1380,688 Q1392,688 1392,700 L1392,795 Q1392,806 1380,806 L1340,806" fill="none" stroke="#f5d57a" stroke-width="10" stroke-dasharray="9 13"/>
<rect x="1284" y="671" width="10" height="18" rx="4" fill="#e08a8a"/>
<path d="M1270,806 q2,12 -4,18" stroke="#d87070" stroke-width="4" fill="none"/>

<!-- obese figures -->
<path d="M1498,735 L1520,735 L1532,745 C1545,755 1548,770 1552,790 L1562,815 L1555,818 L1545,798 C1545,812 1540,820 1535,822 L1532,860 L1520,866 L1514,830 L1505,830 L1500,866 L1488,862 L1485,822 C1478,815 1474,805 1475,798 L1464,818 L1457,815 L1468,790 C1471,770 1474,755 1486,745 Z" fill="#dddddd" stroke="#c4c4c4"/>
<ellipse cx="1509" cy="723" rx="11" ry="13" fill="#dddddd" stroke="#c4c4c4"/>
<path d="M1498,720 C1497,708 1521,708 1520,720 C1515,713 1503,713 1498,720 Z" fill="#aaa"/>
<path d="M1582,737 L1598,737 L1612,746 C1622,760 1626,780 1630,795 L1640,818 L1633,820 L1622,800 C1628,815 1628,825 1620,832 L1615,852 L1605,856 L1600,833 L1592,833 L1587,856 L1577,854 L1573,832 C1562,825 1562,815 1566,800 L1552,820 L1545,817 L1556,795 C1560,780 1562,760 1568,746 Z" fill="#8e8e8e" stroke="#707070"/>
<ellipse cx="1590" cy="723" rx="11" ry="14" fill="#8e8e8e"/>
<path d="M1578,726 C1574,706 1606,704 1602,726 C1598,714 1582,714 1578,726 Z" fill="#555"/>

<!-- glucose meter -->
<rect x="1671" y="671" width="60" height="90" rx="24" fill="#2c5aa6"/>
<rect x="1675" y="675" width="52" height="82" rx="20" fill="#dce8f3"/>
<rect x="1683" y="688" width="36" height="40" rx="4" fill="#9fbb9f" stroke="#6a8aa0" stroke-width="1.5"/>
<path d="M1684,737 h13 v8 h-13 Z M1704,737 h13 v8 h-13 Z" fill="#2a4a98"/>
<rect x="1693" y="757" width="16" height="17" fill="#f2f4f6" stroke="#aab4c0"/>
<rect x="1695" y="772" width="12" height="5" rx="2" fill="#2c5aa6"/>

<!-- heart -->
<rect x="1711" y="478" width="10" height="42" rx="3" fill="#3a88c8"/>
<path d="M1725,510 C1720,488 1735,479 1748,481 C1760,483 1765,496 1758,512" fill="none" stroke="#e04848" stroke-width="12"/>
<rect x="1741" y="477" width="4" height="10" fill="#e04848"/><rect x="1748" y="477" width="4" height="10" fill="#e04848"/>
<path d="M1700,520 C1695,545 1705,575 1740,583 C1765,585 1782,560 1778,530 C1775,510 1760,500 1740,502 C1720,500 1703,505 1700,520 Z" fill="#d94a4a"/>
<path d="M1700,520 C1698,540 1702,555 1712,565 C1716,545 1716,528 1722,515 C1712,508 1704,512 1700,520 Z" fill="#b0507a"/>
<path d="M1736,505 C1750,494 1765,492 1782,492" fill="none" stroke="#3a88c8" stroke-width="9"/>
<rect x="1708" y="555" width="9" height="28" rx="3" fill="#3a88c8"/>
<g fill="none" stroke="#f0b040" stroke-width="3"><path d="M1722,528 C1735,540 1745,555 1742,578"/><path d="M1750,520 C1758,535 1765,548 1768,562"/><path d="M1725,545 C1735,548 1740,560 1730,570"/></g>
<g stroke="#e04848" stroke-width="4"><line x1="1696" y1="510" x2="1712" y2="510"/><line x1="1767" y1="520" x2="1782" y2="518"/></g>
</svg>
</body></html>
